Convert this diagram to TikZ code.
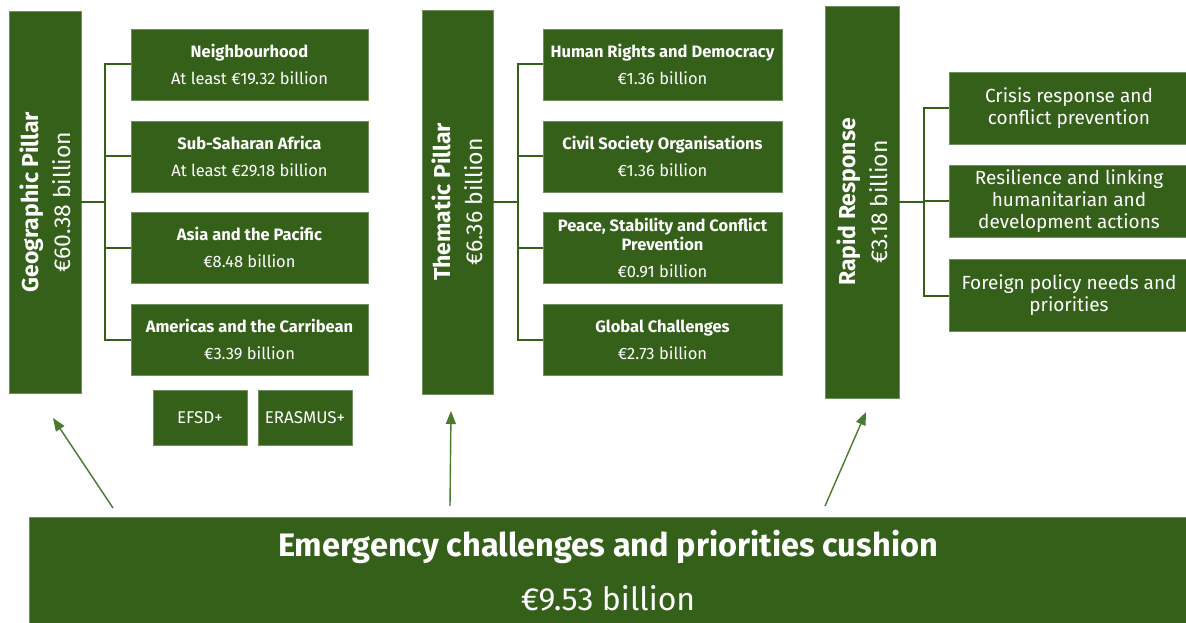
\documentclass[tikz,border=0pt]{standalone}
\usepackage{fontspec}
\setmainfont{Fira Sans}
\usetikzlibrary{arrows.meta}
\definecolor{eugreen}{HTML}{34601A}
\definecolor{arrowgreen}{HTML}{4A7A30}
\begin{document}
\begin{tikzpicture}[x=1pt,y=-1pt,
  box/.style={fill=eugreen, draw=eugreen!70!white, line width=0.6pt, text=white, align=center, inner sep=2pt},
  pillar/.style={box, rotate=90, font=\fontsize{23}{32}\selectfont},
  sub/.style={box, minimum width=237pt, minimum height=71pt, font=\fontsize{16.5}{27}\selectfont},
  rsub/.style={box, minimum width=240pt, minimum height=72pt, font=\fontsize{19}{22}\selectfont},
  small/.style={box, minimum width=94pt, minimum height=55pt, font=\fontsize{17}{19}\selectfont},
  link/.style={draw=eugreen, line width=2pt},
  up/.style={draw=arrowgreen, line width=1.4pt, -{Triangle[length=13pt,width=10pt]}}
]
\useasboundingbox (0,0) rectangle (1186,623);

% pillars (rotated: minimum width is along the long side)
\node[pillar, minimum width=382pt, minimum height=72pt] (geo) at (45,202)
  {{\bfseries Geographic Pillar}\\€60.38 billion};
\node[pillar, minimum width=384pt, minimum height=71pt] (them) at (457.5,202)
  {{\bfseries Thematic Pillar}\\€6.36 billion};
\node[pillar, minimum width=392pt, minimum height=74pt] (rap) at (862,202)
  {{\bfseries Rapid Response}\\€3.18 billion};

% geographic sub-boxes
\node[sub] (g1) at (249.5,64.5) {{\bfseries Neighbourhood}\\At least €19.32 billion};
\node[sub] (g2) at (249.5,156.5) {{\bfseries Sub-Saharan Africa}\\At least €29.18 billion};
\node[sub] (g3) at (249.5,247.5) {{\bfseries Asia and the Pacific}\\€8.48 billion};
\node[sub] (g4) at (249.5,339.5) {{\bfseries Americas and the Carribean}\\€3.39 billion};
\node[small] (efsd) at (200,417.5) {EFSD+};
\node[small] (eras) at (305,417.5) {ERASMUS+};

% thematic sub-boxes
\node[sub, minimum width=239pt] (t1) at (662.5,64.5) {{\bfseries Human Rights and Democracy}\\€1.36 billion};
\node[sub, minimum width=239pt] (t2) at (662.5,156.5) {{\bfseries Civil Society Organisations}\\€1.36 billion};
\node[sub, minimum width=239pt] (t3) at (662.5,247.5)
  {{\bfseries Peace, Stability and Conflict}\\[-8pt]{\bfseries Prevention}\\€0.91 billion};
\node[sub, minimum width=239pt] (t4) at (662.5,339.5) {{\bfseries Global Challenges}\\€2.73 billion};

% rapid response sub-boxes
\node[rsub] (r1) at (1069,108) {Crisis response and\\conflict prevention};
\node[rsub] (r2) at (1069,201) {Resilience and linking\\humanitarian and\\development actions};
\node[rsub] (r3) at (1069,295.5) {Foreign policy needs and\\priorities};

% bottom cushion
\node[box, minimum width=1161pt, minimum height=109pt, anchor=north west] (cush) at (29,517) {};
\node[text=white, font=\fontsize{32.5}{38}\selectfont\bfseries] (cusht) at (608,547)
  {Emergency challenges and priorities cushion};
\node[text=white, font=\fontsize{32}{38}\selectfont] (cusha) at (608,598) {€9.53 billion};

% connectors
\draw[link] (geo.south) -- ++(24,0);
\draw[link] (g1.west) -- ++(-26,0) |- (g4.west);
\draw[link] (g2.west) -- ++(-26,0);
\draw[link] (g3.west) -- ++(-26,0);

\draw[link] (them.south) -- ++(25,0);
\draw[link] (t1.west) -- ++(-25,0) |- (t4.west);
\draw[link] (t2.west) -- ++(-25,0);
\draw[link] (t3.west) -- ++(-25,0);

\draw[link] (rap.south) -- ++(25,0);
\draw[link] (r1.west) -- ++(-25,0) |- (r3.west);
\draw[link] (r2.west) -- ++(-25,0);

% arrows
\coordinate (a1s) at (113,508); \coordinate (a1e) at (53,418);
\coordinate (a2s) at (450,506); \coordinate (a2e) at (451,411);
\coordinate (a3s) at (825,506); \coordinate (a3e) at (866,412);
\draw[up] (a1s) -- (a1e);
\draw[up] (a2s) -- (a2e);
\draw[up] (a3s) -- (a3e);
\end{tikzpicture}
\end{document}
